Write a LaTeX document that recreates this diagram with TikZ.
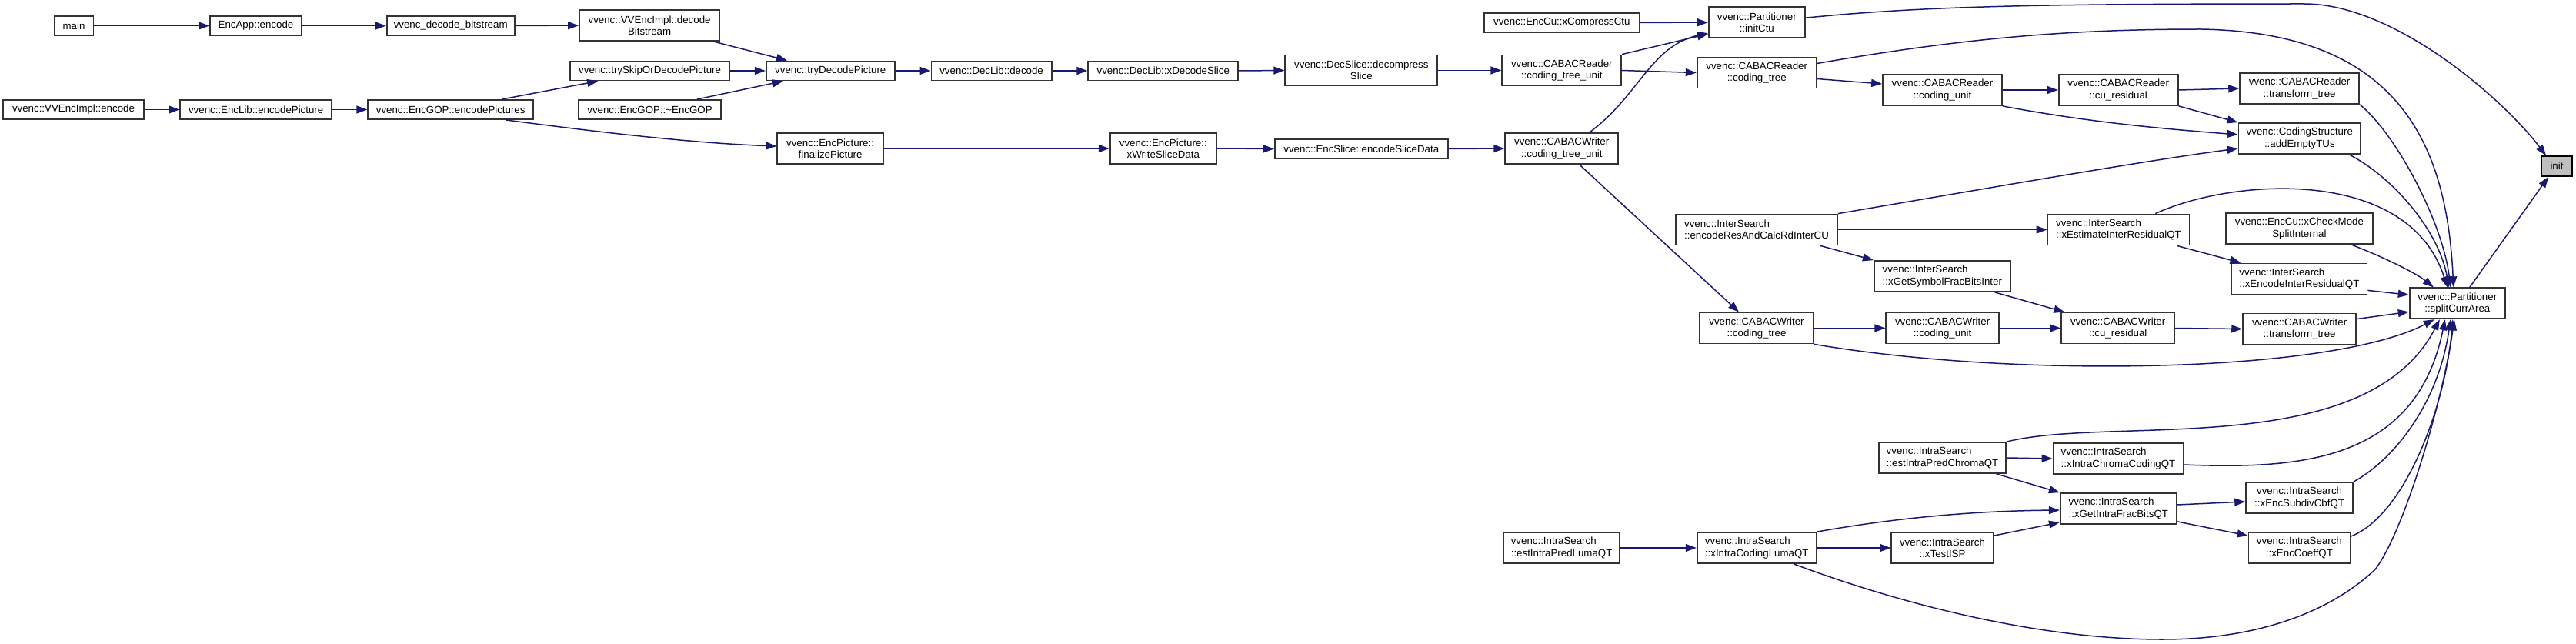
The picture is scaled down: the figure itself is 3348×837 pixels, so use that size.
\documentclass[tikz,border=0pt]{standalone}
\usepackage{fontspec}
\setmainfont{Liberation Sans}
\usetikzlibrary{arrows.meta}
\definecolor{edgeblue}{HTML}{191970}
\begin{document}
\begin{tikzpicture}[
    x={(1pt,0pt)}, y={(0pt,-1pt)},
    fn/.style={draw=black!80, line width=1.8pt, fill=white, inner sep=0pt,
        minimum width=#1pt, minimum height=25pt, align=center,
        font=\fontsize{13.3pt}{15.3pt}\selectfont},
    tall/.style={minimum height=40pt},
    lft/.style={align=left},
    call/.style={draw=edgeblue, line width=1.5pt, -{Triangle[length=14pt,width=10pt]}}]
    \useasboundingbox (0,0) rectangle (3348,837);
    \node[fn=51] (main) at (96,33.5) {main};
    \node[fn=119] (encapp) at (332.5,33.5) {EncApp::encode};
    \node[fn=166] (decbits) at (585.7,33.5) {vvenc\_decode\_bitstream};
    \node[fn=182,tall] (decodebits) at (844.1,33) {vvenc::VVEncImpl::decode\\Bitstream};
    \node[fn=182.5] (vvencimpl) at (95.5,142.5) {vvenc::VVEncImpl::encode};
    \node[fn=197] (enclib) at (332.7,142.5) {vvenc::EncLib::encodePicture};
    \node[fn=215] (encpics) at (585.7,142.5) {vvenc::EncGOP::encodePictures};
    \node[fn=207] (tryskip) at (844.6,92) {vvenc::trySkipOrDecodePicture};
    \node[fn=185] (encgopdtor) at (844.5,142.5) {vvenc::EncGOP::\textasciitilde EncGOP};
    \node[fn=167] (trydec) at (1079.3,92) {vvenc::tryDecodePicture};
    \node[fn=137.5,tall] (finalize) at (1079.1,193) {vvenc::EncPicture::\\finalizePicture};
    \node[fn=156.4] (declib) at (1288.6,92) {vvenc::DecLib::decode};
    \node[fn=195] (xdecslice) at (1511.8,92) {vvenc::DecLib::xDecodeSlice};
    \node[fn=198,tall] (decompress) at (1769.3,91.5) {vvenc::DecSlice::decompress\\Slice};
    \node[fn=138,tall] (xwrite) at (1511.8,193) {vvenc::EncPicture::\\xWriteSliceData};
    \node[fn=225] (encslice) at (1769.3,193.5) {vvenc::EncSlice::encodeSliceData};
    \node[fn=202] (xcompress) at (2029.8,29.3) {vvenc::EncCu::xCompressCtu};
    \node[fn=155,tall] (rdctu) at (2029.8,91.5) {vvenc::CABACReader\\::coding\_tree\_unit};
    \node[fn=147,tall] (wrctu) at (2029.7,193) {vvenc::CABACWriter\\::coding\_tree\_unit};
    \node[fn=151,tall,lft] (estluma) at (2029.6,712) {vvenc::IntraSearch\\::estIntraPredLumaQT};
    \node[fn=125,tall] (initctu) at (2283.3,29.2) {vvenc::Partitioner\\::initCtu};
    \node[fn=155,tall] (rdtree) at (2283.2,94.5) {vvenc::CABACReader\\::coding\_tree};
    \node[fn=210,tall,lft] (encres) at (2283,298.5) {vvenc::InterSearch\\::encodeResAndCalcRdInterCU};
    \node[fn=147.5,tall] (wrtree) at (2283,426.5) {vvenc::CABACWriter\\::coding\_tree};
    \node[fn=155,tall,lft] (xintraluma) at (2283.2,712) {vvenc::IntraSearch\\::xIntraCodingLumaQT};
    \node[fn=155,tall] (rdcu) at (2524.5,117) {vvenc::CABACReader\\::coding\_unit};
    \node[fn=177,tall,lft] (xsymbol) at (2524.3,359) {vvenc::InterSearch\\::xGetSymbolFracBitsInter};
    \node[fn=146.5,tall] (wrcu) at (2524.6,426.5) {vvenc::CABACWriter\\::coding\_unit};
    \node[fn=165.4,tall,lft] (estchroma) at (2524.5,595) {vvenc::IntraSearch\\::estIntraPredChromaQT};
    \node[fn=132.5,tall] (xtestisp) at (2524.5,712) {vvenc::IntraSearch\\::xTestISP};
    \node[fn=155,tall] (rdres) at (2753.2,117) {vvenc::CABACReader\\::cu\_residual};
    \node[fn=184,tall,lft] (xestimate) at (2753.4,298.5) {vvenc::InterSearch\\::xEstimateInterResidualQT};
    \node[fn=147,tall] (wrres) at (2752.7,426.5) {vvenc::CABACWriter\\::cu\_residual};
    \node[fn=169,tall,lft] (xchroma) at (2753,596) {vvenc::IntraSearch\\::xIntraChromaCodingQT};
    \node[fn=151,tall,lft] (xgetintra) at (2753.3,661) {vvenc::IntraSearch\\::xGetIntraFracBitsQT};
    \node[fn=155,tall] (rdtt) at (2988.6,115) {vvenc::CABACReader\\::transform\_tree};
    \node[fn=158.7,tall] (addempty) at (2988.8,180) {vvenc::CodingStructure\\::addEmptyTUs};
    \node[fn=190.8,tall] (xcheck) at (2988.4,297) {vvenc::EncCu::xCheckMode\\SplitInternal};
    \node[fn=176,tall,lft] (xencinter) at (2988.4,362.5) {vvenc::InterSearch\\::xEncodeInterResidualQT};
    \node[fn=147,tall] (wrtt) at (2988.6,427.5) {vvenc::CABACWriter\\::transform\_tree};
    \node[fn=139,tall] (xsubdiv) at (2988.6,647) {vvenc::IntraSearch\\::xEncSubdivCbfQT};
    \node[fn=132,tall] (xcoeff) at (2988.4,712) {vvenc::IntraSearch\\::xEncCoeffQT};
    \node[fn=124.3,tall] (split) at (3193.8,394.3) {vvenc::Partitioner\\::splitCurrArea};
    \node[fn=40,minimum height=26pt,fill=black!25,draw=black] (init) at (3323,216) {init};
    \draw[call] (main) -- (encapp);
    \draw[call] (encapp) -- (decbits);
    \draw[call] (decbits) -- (decodebits);
    \draw[call] ([xshift=-9pt]decodebits.south east) -- ([xshift=28pt]trydec.north west);
    \draw[call] (tryskip) -- (trydec);
    \draw[call] ([xshift=-32pt]encgopdtor.north east) -- ([xshift=23pt]trydec.south west);
    \draw[call] (vvencimpl) -- (enclib);
    \draw[call] (enclib) -- (encpics);
    \draw[call] ([xshift=-42pt]encpics.north east) -- ([xshift=37pt]tryskip.south west);
    \draw[call] ([xshift=-37pt]encpics.south east) .. controls (780,172) and (900,186) .. ([yshift=3pt]finalize.west);
    \draw[call] (trydec) -- (declib);
    \draw[call] (declib) -- (xdecslice);
    \draw[call] (xdecslice.east) -- (decompress.west);
    \draw[call] (decompress.east) -- (rdctu.west);
    \draw[call] (finalize) -- (xwrite);
    \draw[call] (xwrite.east) -- (encslice.west);
    \draw[call] (encslice.east) -- (wrctu.west);
    \draw[call] (xcompress.east) -- (initctu.west);
    \draw[call] (rdctu.north east) -- ([yshift=6pt]initctu.south west);
    \draw[call] ([xshift=36pt]wrctu.north) .. controls (2130,125) and (2145,60) .. ([yshift=7pt]initctu.south west);
    \draw[call] (rdctu.east) -- (rdtree.west);
    \draw[call] ([xshift=23pt]wrctu.south) -- ([xshift=-23pt]wrtree.north);
    \draw[call] ([yshift=6pt]initctu.east) .. controls (2500,8) and (2650,5) .. (2995,5)
        .. controls (3110,5) and (3250,125) .. ([xshift=7pt]init.north west);
    \draw[call] ([yshift=12pt]rdtree.east) .. controls (2560,48) and (2700,38) .. (2860,38)
        .. controls (3120,42) and (3180,190) .. ([xshift=-5pt]split.north);
    \draw[call] ([yshift=-8pt]rdtree.east) -- ([yshift=8pt]rdcu.west);
    \draw[call] (rdcu) -- (rdres);
    \draw[call] (rdcu.south east) .. controls (2720,160) and (2820,168) .. ([yshift=5pt]addempty.west);
    \draw[call] (rdres.east) -- (rdtt.west);
    \draw[call] (rdres.south east) -- (addempty.north west);
    \draw[call] (rdtt.south east) .. controls (3115,175) and (3175,290) .. ([xshift=-9pt]split.north);
    \draw[call] ([xshift=-16pt]addempty.south east) .. controls (3110,230) and (3170,300) .. ([xshift=-11pt]split.north);
    \draw[call] (encres.north east) .. controls (2600,242) and (2780,210) .. ([yshift=-13pt]addempty.west);
    \draw[call] (encres) -- (xestimate);
    \draw[call] ([xshift=-23pt]encres.south east) -- (xsymbol.north west);
    \draw[call] ([xshift=-45pt]xestimate.north east) .. controls (2900,232) and (3130,215) .. ([xshift=-13pt]split.north);
    \draw[call] ([xshift=-17pt]xestimate.south east) -- ([xshift=13pt]xencinter.north west);
    \draw[call] ([xshift=-21pt]xsymbol.south east) -- ([xshift=5pt]wrres.north west);
    \draw[call] ([xshift=-29pt]xcheck.south east) .. controls (3100,335) and (3140,355) .. ([xshift=-31pt]split.north);
    \draw[call] ([yshift=6pt]xencinter.south east) -- ([yshift=11pt]split.west);
    \draw[call] (wrtree) -- (wrcu);
    \draw[call] (wrcu) -- (wrres);
    \draw[call] (wrres.east) -- (wrtt.west);
    \draw[call] ([yshift=-8pt]wrtt.north east) -- ([yshift=-11pt]split.west);
    \draw[call] (wrtree.south east) .. controls (2620,492) and (3030,485) .. ([xshift=-30pt]split.south);
    \draw[call] (estchroma.north east) .. controls (2745,540) and (3075,600) .. ([xshift=-23pt]split.south);
    \draw[call] (estchroma.east) -- (xchroma.west);
    \draw[call] ([xshift=-13.5pt]estchroma.south east) -- (xgetintra.north west);
    \draw[call] ([yshift=-8pt]xchroma.east) .. controls (2990,610) and (3140,600) .. ([xshift=-16pt]split.south);
    \draw[call] ([yshift=5pt]xgetintra.east) -- ([yshift=-5pt]xsubdiv.west);
    \draw[call] ([yshift=4pt]xgetintra.south east) -- ([yshift=-5pt]xcoeff.north west);
    \draw[call] (xsubdiv.north east) .. controls (3115,595) and (3170,520) .. ([xshift=-9pt]split.south);
    \draw[call] ([yshift=-6pt]xcoeff.north east) .. controls (3125,670) and (3178,530) .. ([xshift=-6pt]split.south);
    \draw[call] (estluma) -- (xintraluma);
    \draw[call] (xintraluma.north east) .. controls (2470,672) and (2570,664) .. ([yshift=-2pt]xgetintra.west);
    \draw[call] (xintraluma) -- (xtestisp);
    \draw[call] ([yshift=-5pt]xtestisp.north east) -- ([yshift=3pt]xgetintra.south west);
    \draw[call] ([xshift=48pt]xintraluma.south) .. controls (2470,785) and (2650,831) .. (2810,831)
        .. controls (2960,831) and (3045,780) .. (3087,740)
        .. controls (3125,690) and (3175,520) .. ([xshift=-4pt]split.south);
    \draw[call] ([xshift=16pt]split.north) -- ([xshift=10pt]init.south west);
\end{tikzpicture}
\end{document}
